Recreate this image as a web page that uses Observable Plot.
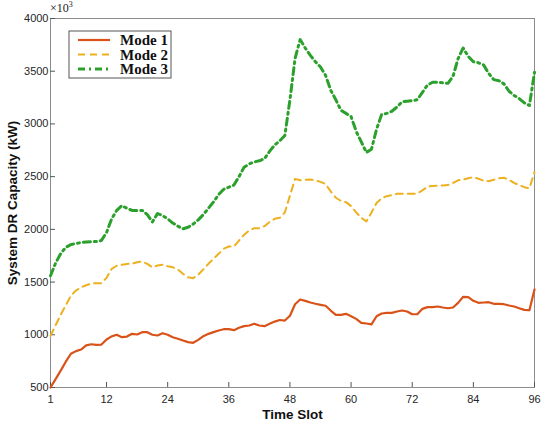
<!DOCTYPE html>
<html>
<head>
<meta charset="utf-8">
<script src="https://cdn.jsdelivr.net/npm/d3@7"></script>
<script src="https://cdn.jsdelivr.net/npm/@observablehq/plot@0.6"></script>
<style>
  html, body { margin: 0; padding: 0; background: #fff; }
  #chart { width: 550px; height: 429px; }
</style>
</head>
<body>
<div id="chart"></div>
<script>
const seriesNames = ["Mode 1", "Mode 2", "Mode 3"];
const seriesColors = ["#D95319", "#EDB120", "#2CA02C"];
const xTicks = [1, 12, 24, 36, 48, 60, 72, 84, 96];
const yTicks = [500, 1000, 1500, 2000, 2500, 3000, 3500, 4000];

const mode1 = [500,580,660,745,820,845,860,900,910,905,907,955,985,1000,977,983,1009,1003,1025,1025,
  1000,993,1015,1000,977,962,946,930,924,952,987,1009,1025,1041,1053,1053,1044,1066,1082,1088,
  1104,1088,1082,1104,1125,1140,1135,1180,1290,1335,1322,1306,1294,1284,1275,1230,1189,1189,1199,1176,
  1151,1113,1107,1098,1176,1202,1208,1208,1221,1230,1221,1195,1195,1246,1262,1262,1268,1259,1252,1259,
  1303,1360,1357,1322,1303,1306,1309,1294,1294,1290,1278,1268,1252,1236,1233,1430];

const mode2 = [990,1090,1190,1280,1370,1420,1450,1470,1485,1490,1490,1540,1625,1655,1665,1672,1675,1688,1695,1672,
  1640,1657,1664,1650,1640,1620,1578,1546,1537,1570,1620,1673,1721,1768,1816,1837,1837,1894,1948,1989,
  2011,2011,2030,2070,2100,2110,2160,2320,2479,2465,2470,2473,2465,2450,2430,2360,2300,2270,2258,2220,
  2160,2110,2075,2160,2250,2295,2315,2325,2337,2337,2337,2337,2340,2370,2405,2412,2415,2416,2420,2440,
  2465,2473,2485,2495,2480,2462,2457,2470,2485,2489,2470,2440,2420,2400,2390,2543];

const mode3 = [1560,1680,1770,1830,1855,1865,1875,1880,1882,1885,1895,1970,2100,2180,2225,2200,2180,2178,2180,2140,
  2070,2150,2130,2100,2060,2030,2005,2020,2050,2090,2140,2200,2260,2330,2380,2400,2420,2500,2590,2620,
  2640,2650,2670,2740,2800,2840,2890,3230,3620,3800,3720,3650,3590,3540,3460,3320,3230,3130,3100,3070,
  2930,2830,2730,2760,2950,3090,3100,3120,3160,3210,3215,3220,3230,3300,3370,3395,3395,3390,3385,3450,
  3620,3720,3640,3590,3580,3560,3480,3420,3410,3380,3310,3270,3240,3200,3175,3490];

const allSeries = [mode1, mode2, mode3];
const table = allSeries.flatMap((vals, s) =>
  vals.map((v, i) => ({slot: i + 1, value: v, mode: seriesNames[s]})));

const styles = [
  {strokeWidth: 2.2, dash: null},
  {strokeWidth: 2, dash: "7,5"},
  {strokeWidth: 3, dash: "7,4,2,4"}
];

const tickFont = "Liberation Sans, Arial, sans-serif";

const chart = Plot.plot({
  width: 550,
  height: 429,
  marginLeft: 50,
  marginRight: 16,
  marginTop: 18,
  marginBottom: 42,
  style: {fontFamily: tickFont, fontSize: "11px", color: "#262626", background: "#fff"},
  x: {domain: [1, 96]},
  y: {domain: [500, 4000]},
  marks: [
    Plot.frame({stroke: "#8c8c8c", strokeWidth: 1}),
    Plot.axisX({ticks: xTicks, tickSize: -5, tickPadding: 13, label: null, stroke: "#555", fill: "#262626", fontSize: 11}),
    Plot.axisY({ticks: yTicks, tickSize: -5, tickPadding: 7, tickFormat: d3.format("d"), label: null, stroke: "#555", fill: "#262626", fontSize: 11}),
    ...seriesNames.map((name, s) => Plot.line(table.filter(d => d.mode === name), {
      x: "slot", y: "value",
      stroke: seriesColors[s],
      strokeWidth: styles[s].strokeWidth,
      strokeDasharray: styles[s].dash,
      strokeLinejoin: "round"
    })),
    Plot.text(["System DR Capacity (kW)"], {
      text: d => d, frameAnchor: "left", rotate: -90, dx: -38,
      textAnchor: "middle", lineAnchor: "middle",
      fontWeight: "bold", fontSize: 13.5, fill: "#111", fontFamily: tickFont
    }),
    Plot.text(["Time Slot"], {
      text: d => d, frameAnchor: "bottom", dy: 27,
      textAnchor: "middle", lineAnchor: "middle",
      fontWeight: "bold", fontSize: 13.5, fill: "#111", fontFamily: tickFont
    })
  ]
});

document.getElementById("chart").appendChild(chart);

// MATLAB-style exponent label and legend box
const svg = d3.select(chart);
const expo = svg.append("text")
  .attr("x", 50).attr("y", 12)
  .attr("text-anchor", "start")
  .attr("font-family", "Liberation Serif, Times New Roman, serif")
  .attr("font-size", 12).attr("fill", "#222");
expo.append("tspan").text("×10");
expo.append("tspan").attr("dy", -5).attr("font-size", 8).text("3");

const lg = svg.append("g").attr("transform", "translate(69,31)");
lg.append("rect").attr("width", 102).attr("height", 47)
  .attr("fill", "#fff").attr("stroke", "#555").attr("stroke-width", 1);
seriesNames.forEach((name, s) => {
  const yy = 9 + s * 14.5;
  lg.append("line").attr("x1", 9).attr("x2", 41).attr("y1", yy).attr("y2", yy)
    .attr("stroke", seriesColors[s]).attr("stroke-width", styles[s].strokeWidth)
    .attr("stroke-dasharray", styles[s].dash);
  lg.append("text").attr("x", 51).attr("y", yy).attr("dy", "0.35em")
    .attr("text-anchor", "start")
    .attr("font-family", "Liberation Serif, Times New Roman, serif")
    .attr("font-weight", "bold").attr("font-size", 15).attr("fill", "#111")
    .text(name);
});
</script>
</body>
</html>
